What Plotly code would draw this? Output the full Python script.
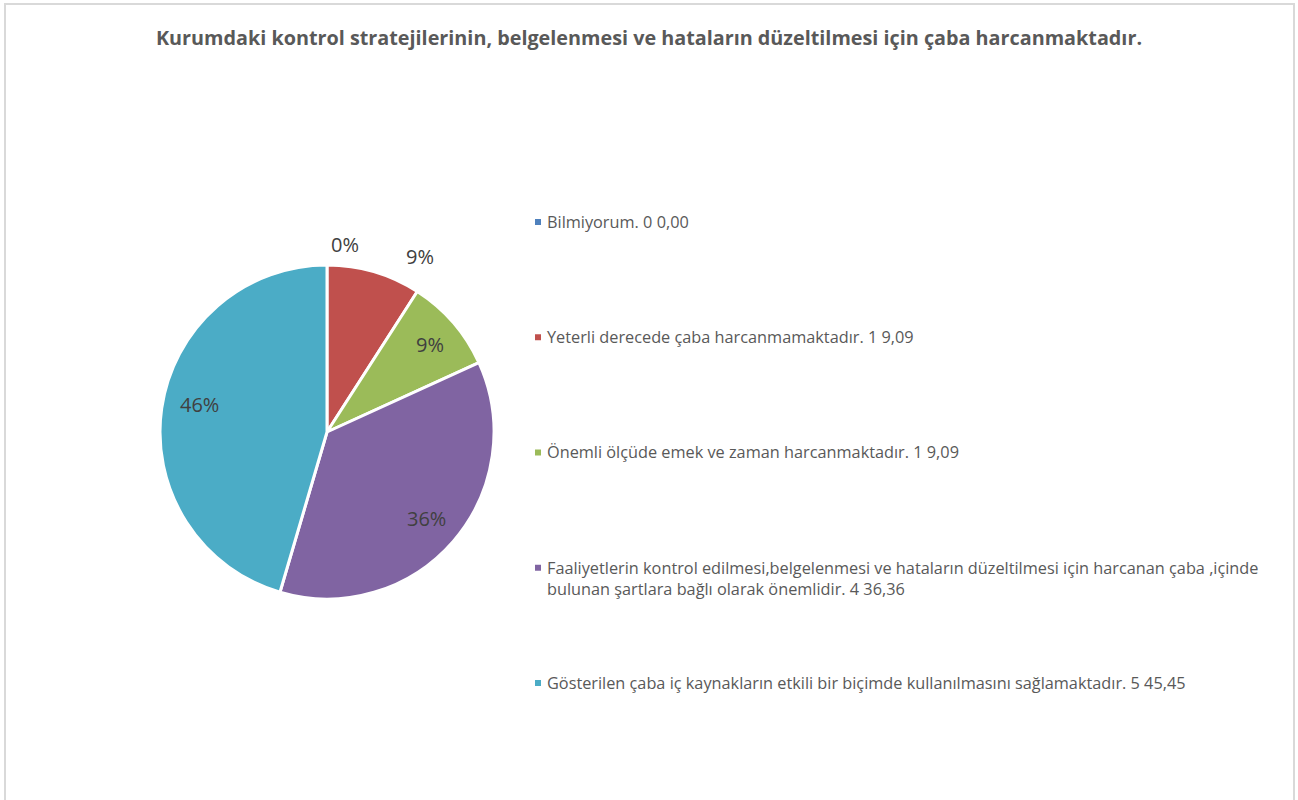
import math
import plotly.graph_objects as go

# Survey responses
categories = [
    "Bilmiyorum.",
    "Yeterli derecede çaba harcanmamaktadır.",
    "Önemli ölçüde emek ve zaman harcanmaktadır.",
    "Faaliyetlerin kontrol edilmesi,belgelenmesi ve hataların düzeltilmesi için harcanan çaba ,içinde bulunan şartlara bağlı olarak önemlidir.",
    "Gösterilen çaba iç kaynakların etkili bir biçimde kullanılmasını sağlamaktadır.",
]
counts = [0, 1, 1, 4, 5]
percents = [0.00, 9.09, 9.09, 36.36, 45.45]

title_text = "Kurumdaki kontrol stratejilerinin, belgelenmesi ve hataların düzeltilmesi için çaba harcanmaktadır."

# Styling
colors = ["#4F81BD", "#C0504D", "#9BBB59", "#8064A2", "#4BACC6"]
FONT = "Open Sans"
W, H = 1298, 800

# Pie geometry in pixels
CX, CY, R = 327, 432, 167

# Data-label placement: radius factor and angular nudge (degrees)
label_r = [1.13, 1.19, 0.81, 0.79, 0.78]
label_shift = [5.5, 11.6, 0.7, 0.0, 3.8]

# Legend layout
LEG_X = 545
LEG_Y0 = 220.5
LEG_STEP = 115.25


def px(x):
    return x / W


def py(y):
    return 1 - y / H


def whole_percents(values):
    """Round shares to whole percents that add up to 100 (largest remainder)."""
    tot = sum(values)
    raw = [v / tot * 100 for v in values]
    base = [math.floor(r) for r in raw]
    left = 100 - sum(base)
    order = sorted(range(len(raw)), key=lambda k: raw[k] - base[k], reverse=True)
    for k in order[:left]:
        base[k] += 1
    return base


fig = go.Figure()
fig.add_trace(go.Pie(
    labels=categories,
    values=counts,
    sort=False,
    direction="clockwise",
    rotation=0,
    marker=dict(colors=colors, line=dict(color="white", width=3)),
    textinfo="none",
    hoverinfo="label+percent",
    showlegend=False,
    domain=dict(x=[px(CX - R), px(CX + R)], y=[py(CY + R), py(CY - R)]),
))

annotations = []
shapes = []

# Percentage labels positioned at each slice's mid-angle
total = sum(counts)
pct_labels = whole_percents(counts)
cum = 0
for i, v in enumerate(counts):
    share = v / total
    mid = (cum + share / 2) * 360 + label_shift[i]
    cum += share
    a = math.radians(mid)
    lx = CX + label_r[i] * R * math.sin(a)
    ly = CY - label_r[i] * R * math.cos(a)
    annotations.append(dict(
        x=px(lx), y=py(ly), xref="paper", yref="paper",
        text=f"{pct_labels[i]}%", showarrow=False,
        xanchor="center", yanchor="middle",
        font=dict(family=FONT, size=20, color="#404040"),
    ))

# Legend drawn as marker squares with text
for i, name in enumerate(categories):
    yc = LEG_Y0 + i * LEG_STEP
    label = f"{name} {counts[i]} " + f"{percents[i]:.2f}".replace(".", ",")
    label = label.replace(",içinde ", ",içinde<br>")
    shapes.append(dict(
        type="rect", xref="paper", yref="paper",
        x0=px(535), x1=px(541), y0=py(yc + 4.5), y1=py(yc - 1.5),
        fillcolor=colors[i], line=dict(width=0),
    ))
    annotations.append(dict(
        x=px(LEG_X), y=py(yc - 11.5), xref="paper", yref="paper",
        text=label, showarrow=False, align="left",
        xanchor="left", yanchor="top",
        font=dict(family=FONT, size=16.3, color="#595959"),
    ))

# Chart area border
shapes.append(dict(
    type="rect", xref="paper", yref="paper",
    x0=px(5), x1=px(1294), y0=py(820), y1=py(4),
    line=dict(color="#D9D9D9", width=2), fillcolor="rgba(0,0,0,0)",
))

fig.update_layout(
    width=W, height=H,
    margin=dict(l=0, r=0, t=0, b=0),
    paper_bgcolor="white",
    plot_bgcolor="white",
    title=dict(
        text=f"<b>{title_text}</b>",
        x=0.5, xanchor="center", xref="paper",
        y=py(38), yanchor="middle", yref="paper",
        font=dict(family=FONT, size=19.8, color="#595959"),
    ),
    annotations=annotations,
    shapes=shapes,
)

fig.write_html("out.html")
